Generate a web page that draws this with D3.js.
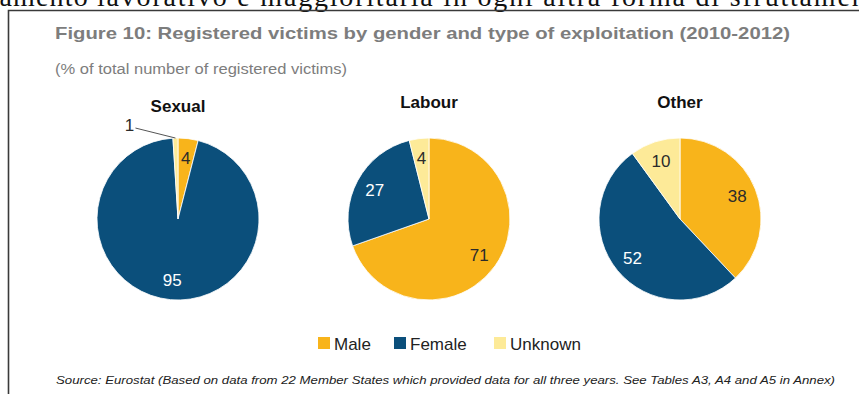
<!DOCTYPE html>
<html>
<head>
<meta charset="utf-8">
<script src="https://cdn.jsdelivr.net/npm/d3@7"></script>
<style>
  html, body { margin: 0; padding: 0; background: #fff; }
  svg { display: block; }
</style>
</head>
<body>
<svg id="chart" width="859" height="394"></svg>
<script>
// Exploitation types, one pie each
const panels = ["Sexual", "Labour", "Other"];
// Gender groups, drawn clockwise from 12 o'clock
const genders = ["Male", "Female", "Unknown"];
// Share of registered victims (%) per gender, in the order of `genders`
const sexualValues = [4, 95, 1];
const labourValues = [71, 27, 4];
const otherValues = [38, 52, 10];

const title = "Figure 10: Registered victims by gender and type of exploitation (2010-2012)";
const subtitle = "(% of total number of registered victims)";
const source = "Source: Eurostat (Based on data from 22 Member States which provided data for all three years. See Tables A3, A4 and A5 in Annex)";

const valuesByPanel = [sexualValues, labourValues, otherValues];
const colors = { Male: "#F8B41B", Female: "#0B4F7B", Unknown: "#FDEA98" };
const labelColors = { Male: "#2b2b2b", Female: "#ffffff", Unknown: "#2b2b2b" };

const svg = d3.select("#chart");

// running text of the page above the figure, cut by the top edge
const bodyFont = "'Liberation Serif', 'Times New Roman', serif";
svg.append("text").attr("x", 89).attr("y", 6).attr("text-anchor", "end")
  .attr("font-family", bodyFont).attr("font-size", 28).attr("fill", "#111")
  .attr("letter-spacing", 1.2)
  .text("sfruttamento");
svg.append("text").attr("x", 97).attr("y", 6)
  .attr("font-family", bodyFont).attr("font-size", 28).attr("fill", "#111")
  .attr("letter-spacing", 1.8)
  .text("lavorativo e maggioritaria in ogni altra forma di sfruttamento");

// frame
svg.append("path")
  .attr("d", "M8.5,394 V10.5 H859")
  .attr("fill", "none").attr("stroke", "#3a3a3a").attr("stroke-width", 1.6);

const sans = "Arial, 'Liberation Sans', Helvetica, sans-serif";
const narrow = "'Liberation Sans Narrow', 'Arial Narrow', Arial, sans-serif";

svg.append("text").attr("x", 55).attr("y", 39)
  .attr("font-family", sans).attr("font-weight", "bold").attr("font-size", 16.5)
  .attr("fill", "#7d7d7d")
  .attr("textLength", 735).attr("lengthAdjust", "spacingAndGlyphs")
  .text(title);

svg.append("text").attr("x", 55).attr("y", 74)
  .attr("font-family", narrow).attr("font-size", 14)
  .attr("fill", "#7d7d7d")
  .attr("textLength", 292).attr("lengthAdjust", "spacingAndGlyphs")
  .text(subtitle);

// pie layout
const centerX = d3.scalePoint().domain(panels).range([178, 680]);
const centerY = 219;
const radius = 81;

const pie = d3.pie().sort(null).value(d => d.value);
const arc = d3.arc().innerRadius(0).outerRadius(radius);
const labelArc = d3.arc().innerRadius(radius * 0.76).outerRadius(radius * 0.76);

panels.forEach((name, i) => {
  const data = genders.map((g, j) => ({ gender: g, value: valuesByPanel[i][j] }));
  const g = svg.append("g")
    .attr("transform", `translate(${centerX(name)},${centerY})`);

  g.append("text").attr("x", 0).attr("y", name === "Sexual" ? -107 : -111)
    .attr("text-anchor", "middle")
    .attr("font-family", sans).attr("font-weight", "bold").attr("font-size", 17)
    .attr("fill", "#111").text(name);

  const arcs = pie(data);
  g.selectAll("path.slice").data(arcs).join("path")
    .attr("class", "slice")
    .attr("d", arc)
    .attr("fill", d => colors[d.data.gender])
    .attr("stroke", "#fff").attr("stroke-width", 0.8);

  arcs.forEach(d => {
    const share = d.value / 100;
    if (share >= 0.03) {
      const [lx, ly] = labelArc.centroid(d);
      g.append("text").attr("x", lx).attr("y", ly).attr("dy", "0.36em")
        .attr("text-anchor", "middle")
        .attr("font-family", sans).attr("font-size", 17)
        .attr("fill", labelColors[d.data.gender])
        .text(d.value);
    } else {
      // too thin to hold its value: label outside with a leader line
      const mid = (d.startAngle + d.endAngle) / 2;
      const ex = Math.sin(mid) * radius, ey = -Math.cos(mid) * radius;
      const tx = ex - 46, ty = ey - 9;
      g.append("line")
        .attr("x1", ex).attr("y1", ey).attr("x2", tx + 6).attr("y2", ty - 1)
        .attr("stroke", "#555").attr("stroke-width", 1);
      g.append("text").attr("x", tx).attr("y", ty).attr("dy", "0.1em")
        .attr("text-anchor", "middle")
        .attr("font-family", sans).attr("font-size", 17).attr("fill", "#2b2b2b")
        .text(d.value);
    }
  });
});

// legend
const legendX = { Male: 318, Female: 394, Unknown: 494 };
const legend = svg.append("g");
genders.forEach(gd => {
  legend.append("rect").attr("x", legendX[gd]).attr("y", 337)
    .attr("width", 12).attr("height", 12).attr("fill", colors[gd]);
  legend.append("text").attr("x", legendX[gd] + 16).attr("y", 350)
    .attr("font-family", sans).attr("font-size", 17).attr("fill", "#222")
    .text(gd);
});

svg.append("text").attr("x", 56).attr("y", 384)
  .attr("font-family", narrow).attr("font-style", "italic").attr("font-size", 11.5)
  .attr("fill", "#222")
  .attr("textLength", 779).attr("lengthAdjust", "spacingAndGlyphs")
  .text(source);
</script>
</body>
</html>
